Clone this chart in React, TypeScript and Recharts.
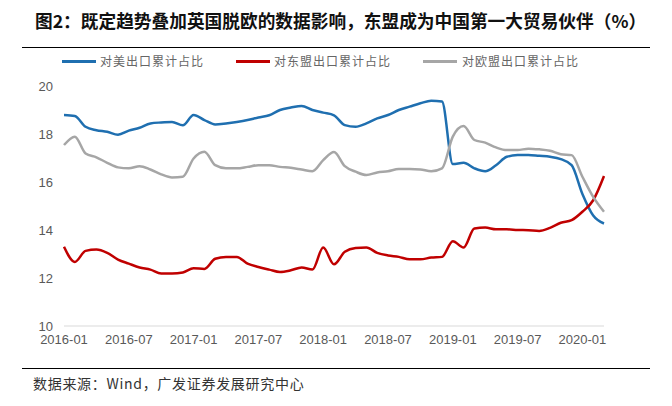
import { LineChart, Line, XAxis, YAxis } from "recharts";

// 2016-01 .. 2020-03
const months: string[] = [];
for (let y = 2016; y <= 2020; y++) {
  for (let m = 1; m <= 12; m++) {
    if (y === 2020 && m > 3) break;
    months.push(`${y}-${String(m).padStart(2, "0")}`);
  }
}

const usShare = [
  18.79, 18.75, 18.3, 18.16, 18.09, 17.97, 18.14, 18.26, 18.44, 18.48, 18.5, 18.36,
  18.79, 18.58, 18.4, 18.44, 18.5, 18.58, 18.69, 18.78, 19.0, 19.1, 19.17, 19.0,
  18.89, 18.78, 18.37, 18.3, 18.44, 18.65, 18.79, 19.0, 19.14, 19.28, 19.39, 19.35,
  16.75, 16.8, 16.57, 16.45, 16.7, 17.05, 17.12, 17.13, 17.09, 17.05, 16.95, 16.7,
  15.5, 14.6, 14.27,
];

const aseanShare = [
  13.3, 12.67, 13.13, 13.19, 13.05, 12.77, 12.6, 12.44, 12.35, 12.19, 12.19, 12.23,
  12.41, 12.38, 12.8, 12.88, 12.88, 12.6, 12.46, 12.35, 12.25, 12.32, 12.44, 12.35,
  13.27, 12.57, 13.09, 13.25, 13.27, 13.05, 12.94, 12.88, 12.78, 12.78, 12.85, 12.88,
  13.53, 13.27, 14.06, 14.1, 14.03, 14.03, 14.0, 13.99, 13.96, 14.09, 14.3, 14.41,
  14.76, 15.24, 16.25,
];

const euShare = [
  17.54, 17.89, 17.19, 17.03, 16.8, 16.61, 16.57, 16.66, 16.52, 16.32, 16.19, 16.22,
  16.98, 17.26, 16.7, 16.57, 16.57, 16.63, 16.7, 16.7, 16.63, 16.59, 16.52, 16.45,
  16.91, 17.25, 16.66, 16.43, 16.29, 16.4, 16.45, 16.54, 16.54, 16.52, 16.45, 16.57,
  17.89, 18.33, 17.75, 17.64, 17.44, 17.33, 17.33, 17.39, 17.36, 17.3, 17.16, 17.12,
  16.22, 15.38, 14.76,
];

const yTicks = [10, 12, 14, 16, 18, 20];

const series = [
  { key: "us", name: "对美出口累计占比", color: "#1f6fb0" },
  { key: "asean", name: "对东盟出口累计占比", color: "#c00000" },
  { key: "eu", name: "对欧盟出口累计占比", color: "#a6a6a6" },
];

const data = months.map((m, i) => ({
  month: m,
  us: usShare[i],
  asean: aseanShare[i],
  eu: euShare[i],
}));

const legendPos = [
  { line: 62, text: 100 },
  { line: 236, text: 274 },
  { line: 423, text: 462 },
];

const tickFont = { fontSize: 13, fill: "#595959", fontFamily: "Arial, 'Liberation Sans', sans-serif" };

export default function App() {
  return (
    <div
      style={{
        position: "absolute",
        left: 0,
        top: 0,
        width: 672,
        height: 406,
        background: "#fff",
        overflow: "hidden",
        fontFamily: "'Noto Sans CJK SC', sans-serif",
      }}
    >
      <div
        style={{
          position: "absolute",
          left: 35,
          top: 8,
          fontSize: 17.7,
          fontWeight: 700,
          color: "#111",
          whiteSpace: "nowrap",
          lineHeight: "24px",
        }}
      >
        图2：既定趋势叠加英国脱欧的数据影响，东盟成为中国第一大贸易伙伴（%）
      </div>
      <div style={{ position: "absolute", left: 22, top: 47, width: 628, height: 1, background: "#000" }} />

      {series.map((s, i) => (
        <div key={s.key}>
          <div
            style={{
              position: "absolute",
              left: legendPos[i].line,
              top: 60,
              width: 34,
              height: 3,
              background: s.color,
            }}
          />
          <div
            style={{
              position: "absolute",
              left: legendPos[i].text,
              top: 53,
              fontSize: 12,
              letterSpacing: 1,
              color: "#666",
              whiteSpace: "nowrap",
              lineHeight: "16px",
            }}
          >
            {s.name}
          </div>
        </div>
      ))}

      <div style={{ position: "absolute", left: 0, top: 0 }}>
        <LineChart
          width={672}
          height={406}
          data={data}
          margin={{ top: 86, right: 68, bottom: 50, left: 24 }}
        >
          <XAxis
            dataKey="month"
            interval={5}
            axisLine={{ stroke: "#d9d9d9" }}
            tickLine={false}
            tickSize={0}
            tickMargin={9}
            tick={tickFont}
            height={30}
          />
          <YAxis
            domain={[10, 20]}
            ticks={yTicks}
            axisLine={false}
            tickLine={false}
            tickSize={0}
            tickMargin={11}
            tick={tickFont}
            width={40}
          />
          {series.map((s) => (
            <Line
              key={s.key}
              dataKey={s.key}
              name={s.name}
              type="monotone"
              stroke={s.color}
              strokeWidth={2.5}
              dot={false}
              isAnimationActive={false}
            />
          ))}
        </LineChart>
      </div>

      <div style={{ position: "absolute", left: 22, top: 368, width: 628, height: 1, background: "#000" }} />
      <div
        style={{
          position: "absolute",
          left: 33,
          top: 373,
          fontSize: 14,
          letterSpacing: 0.7,
          color: "#333",
          whiteSpace: "nowrap",
          lineHeight: "20px",
        }}
      >
        数据来源：Wind，广发证券发展研究中心
      </div>
    </div>
  );
}
